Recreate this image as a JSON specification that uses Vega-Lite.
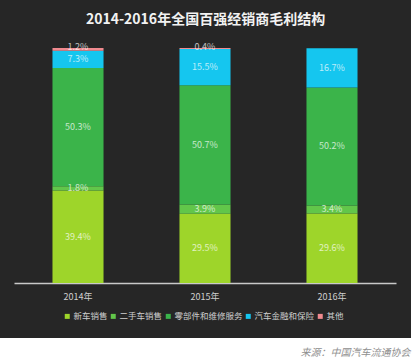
{
  "$schema": "https://vega.github.io/schema/vega-lite/v6.json",
  "width": 411,
  "height": 338,
  "autosize": {"type": "none"},
  "padding": {"left": 0, "top": 0, "right": 4, "bottom": 23},
  "background": "#ffffff",
  "config": {
    "view": {"fill": "#262626", "stroke": null},
    "font": "Noto Sans CJK SC"
  },
  "title": {
    "text": "2014-2016年全国百强经销商毛利结构",
    "orient": "top",
    "anchor": "middle",
    "frame": "group",
    "offset": -27,
    "color": "#f2f2f2",
    "fontSize": 14,
    "fontWeight": "bold",
    "font": "Noto Sans CJK SC"
  },
  "data": {
    "values": [
      {"year": "2014年", "cat": "新车销售", "ord": 1, "value": 39.4, "label": "39.4%"},
      {"year": "2014年", "cat": "二手车销售", "ord": 2, "value": 1.8, "label": "1.8%"},
      {"year": "2014年", "cat": "零部件和维修服务", "ord": 3, "value": 50.3, "label": "50.3%"},
      {"year": "2014年", "cat": "汽车金融和保险", "ord": 4, "value": 7.3, "label": "7.3%"},
      {"year": "2014年", "cat": "其他", "ord": 5, "value": 1.2, "label": "1.2%"},
      {"year": "2015年", "cat": "新车销售", "ord": 1, "value": 29.5, "label": "29.5%"},
      {"year": "2015年", "cat": "二手车销售", "ord": 2, "value": 3.9, "label": "3.9%"},
      {"year": "2015年", "cat": "零部件和维修服务", "ord": 3, "value": 50.7, "label": "50.7%"},
      {"year": "2015年", "cat": "汽车金融和保险", "ord": 4, "value": 15.5, "label": "15.5%"},
      {"year": "2015年", "cat": "其他", "ord": 5, "value": 0.4, "label": "0.4%"},
      {"year": "2016年", "cat": "新车销售", "ord": 1, "value": 29.6, "label": "29.6%"},
      {"year": "2016年", "cat": "二手车销售", "ord": 2, "value": 3.4, "label": "3.4%"},
      {"year": "2016年", "cat": "零部件和维修服务", "ord": 3, "value": 50.2, "label": "50.2%"},
      {"year": "2016年", "cat": "汽车金融和保险", "ord": 4, "value": 16.7, "label": "16.7%"}
    ]
  },
  "transform": [
    {"stack": "value", "groupby": ["year"], "sort": [{"field": "ord", "order": "ascending"}], "as": ["v0", "v1"]},
    {"calculate": "datum.ord == 5 ? datum.v1 + 0.4 : (datum.v0 + datum.v1) / 2", "as": "vmid"}
  ],
  "encoding": {
    "x": {
      "field": "year",
      "type": "nominal",
      "scale": {"range": [14, 396], "paddingInner": 0.598, "paddingOuter": 0.303},
      "axis": {
        "title": "来源：中国汽车流通协会",
        "titleColor": "#8f8f8f",
        "titleFontSize": 10,
        "titleFontStyle": "italic",
        "titleFontWeight": "normal",
        "titleAlign": "right",
        "titleAnchor": null,
        "titleX": 410,
        "titleY": 69,
        "titleBaseline": "middle",
        "offset": -55,
        "labelAngle": 0,
        "labelColor": "#cfcfcf",
        "labelFontSize": 9,
        "labelPadding": 9,
        "ticks": false,
        "domainColor": "#c9c9c9",
        "domainWidth": 1.5
      }
    }
  },
  "layer": [
    {
      "mark": {"type": "bar"},
      "encoding": {
        "y": {"field": "v1", "type": "quantitative", "scale": {"domain": [-23.4, 120.4], "nice": false, "zero": false}, "axis": null},
        "y2": {"field": "v0"},
        "color": {
          "field": "cat",
          "type": "nominal",
          "scale": {
            "domain": ["新车销售", "二手车销售", "零部件和维修服务", "汽车金融和保险", "其他"],
            "range": ["#9ed52a", "#62c64a", "#3bb44a", "#15c6ef", "#f08a8f"]
          },
          "legend": {
            "title": null,
            "orient": "none",
            "legendX": 63,
            "legendY": 312,
            "direction": "horizontal",
            "symbolType": "square",
            "symbolSize": 25,
            "symbolStrokeWidth": 0,
            "labelColor": "#cfcfcf",
            "labelFontSize": 8.5,
            "labelOffset": 2,
            "columnPadding": 1
          }
        }
      }
    },
    {
      "mark": {"type": "text", "fontSize": 9, "color": "#ffffff", "opacity": 0.7, "baseline": "middle"},
      "encoding": {
        "y": {"field": "vmid", "type": "quantitative"},
        "text": {"field": "label", "type": "nominal"}
      }
    }
  ]
}
